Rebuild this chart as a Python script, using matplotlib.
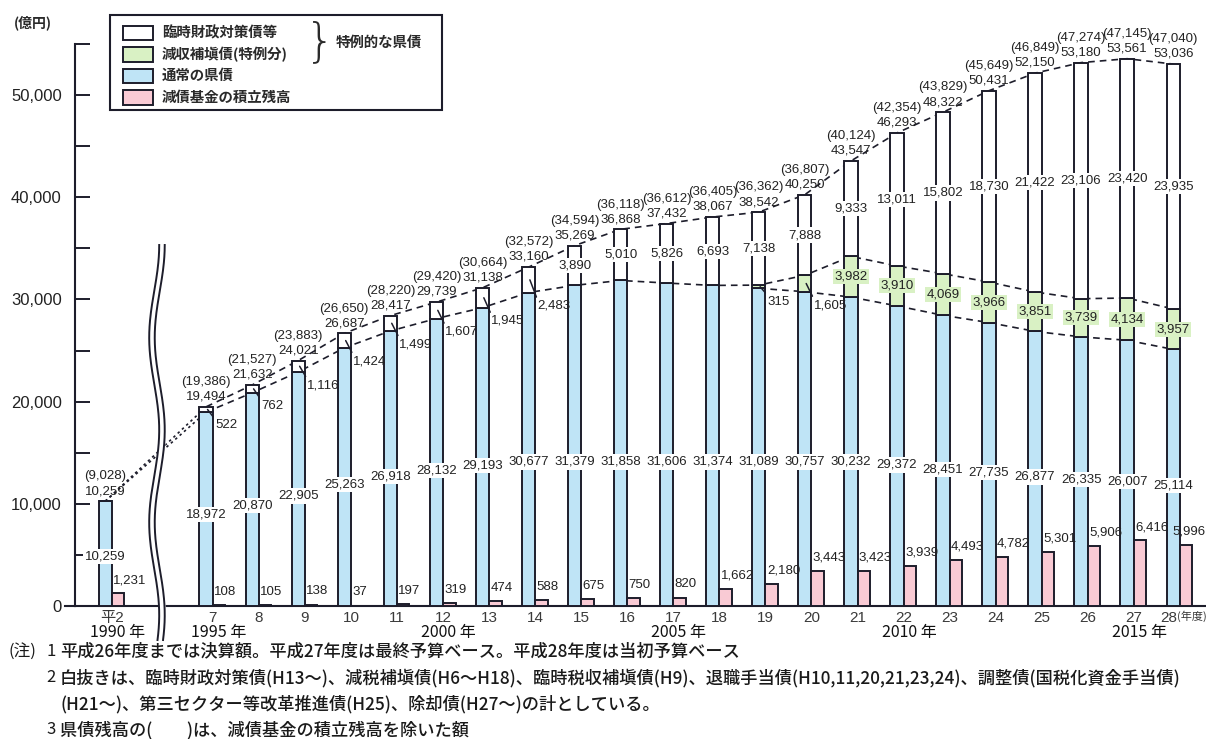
import matplotlib
matplotlib.use('Agg')
import matplotlib.pyplot as plt
import matplotlib.transforms as mtransforms
import numpy as np
from matplotlib import font_manager
from matplotlib.patches import Rectangle
from matplotlib.ticker import MultipleLocator, FuncFormatter

# 県債残高の推移（億円）
fiscal_years = ['平2', '7', '8', '9', '10', '11', '12', '13', '14', '15', '16', '17',
                '18', '19', '20', '21', '22', '23', '24', '25', '26', '27', '28']
normal_bonds = [10259, 18972, 20870, 22905, 25263, 26918, 28132, 29193, 30677, 31379,
                31858, 31606, 31374, 31089, 30757, 30232, 29372, 28451, 27735, 26877,
                26335, 26007, 25114]
hoten_bonds = [0, 0, 0, 0, 0, 0, 0, 0, 0, 0, 0, 0, 0, 315, 1605, 3982, 3910, 4069,
               3966, 3851, 3739, 4134, 3957]
special_bonds = [0, 522, 762, 1116, 1424, 1499, 1607, 1945, 2483, 3890, 5010, 5826,
                 6693, 7138, 7888, 9333, 13011, 15802, 18730, 21422, 23106, 23420, 23935]
fund_balance = [1231, 108, 105, 138, 37, 197, 319, 474, 588, 675, 750, 820, 1662, 2180,
                3443, 3423, 3939, 4493, 4782, 5301, 5906, 6416, 5996]
total_bonds = [10259, 19494, 21632, 24021, 26687, 28417, 29739, 31138, 33160, 35269,
               36868, 37432, 38067, 38542, 40250, 43547, 46293, 48322, 50431, 52150,
               53180, 53561, 53036]
total_ex_fund = [9028, 19386, 21527, 23883, 26650, 28220, 29420, 30664, 32572, 34594,
                 36118, 36612, 36405, 36362, 36807, 40124, 42354, 43829, 45649, 46849,
                 47274, 47145, 47040]
western_years = {0: '1990 年', 1: '1995 年', 6: '2000 年', 11: '2005 年',
                 16: '2010 年', 21: '2015 年'}

legend_labels = ['臨時財政対策債等', '減収補塡債(特例分)', '通常の県債', '減債基金の積立残高']
notes = [
    ('(注)', '1', '平成26年度までは決算額。平成27年度は最終予算ベース。平成28年度は当初予算ベース'),
    ('', '2', '白抜きは、臨時財政対策債(H13～)、減税補塡債(H6～H18)、臨時税収補塡債(H9)、'
              '退職手当債(H10,11,20,21,23,24)、調整債(国税化資金手当債)'),
    ('', '', '(H21～)、第三セクター等改革推進債(H25)、除却債(H27～)の計としている。'),
    ('', '3', '県債残高の(　　)は、減債基金の積立残高を除いた額'),
]

installed = {f.name for f in font_manager.fontManager.ttflist}
num_font = 'Liberation Sans Narrow' if 'Liberation Sans Narrow' in installed else 'Liberation Sans'
jp_font = 'Noto Sans CJK JP'
plt.rcParams['font.family'] = [num_font, jp_font, 'DejaVu Sans']

BLUE = '#bfe4f6'
GREEN = '#d9f1c4'
PINK = '#f9cad4'
EDGE = '#1d1d2b'
TXT = '#222222'

W, H = 1206, 739


def fx(px):
    return px / W


def fy(py):
    return 1 - py / H


normal = np.array(normal_bonds)
hoten = np.array(hoten_bonds)
special = np.array(special_bonds)
fund = np.array(fund_balance)

gap = 2.19
xs = np.array([0.0] + [gap + i for i in range(len(fiscal_years) - 1)])
bw, fw = 0.29, 0.27
xc = xs - bw / 2
x_right = 23.757

fig = plt.figure(figsize=(W / 100, H / 100), dpi=100)
ax = fig.add_axes([fx(75), fy(606), 1 - fx(75), (606 - 44) / H])

bar_kw = dict(align='edge', edgecolor=EDGE, linewidth=1.4, zorder=3)
ax.bar(xs - bw, normal, bw, color=BLUE, **bar_kw)
ax.bar(xs - bw, hoten, bw, bottom=normal, color=GREEN, **bar_kw)
ax.bar(xs - bw, special, bw, bottom=normal + hoten, color='white', **bar_kw)
ax.bar(xs, fund, fw, color=PINK, **bar_kw)

# connecting lines between bar tops
line_kw = dict(color=EDGE, lw=1.2, zorder=2)
upper = normal + hoten
for series, start in [(np.array(total_bonds), 0), (upper, 0), (normal, 13)]:
    ax.plot(xc[max(start, 1):], series[max(start, 1):], dashes=(4, 3), **line_kw)
    if start == 0:
        ax.plot(xc[:2], series[:2], dashes=(1.5, 2), **line_kw)

# totals with fund-excluded totals in parentheses
for i in range(len(xs)):
    ax.annotate(f'{total_bonds[i]:,}', xy=(xc[i], total_bonds[i]), xytext=(0, 3),
                textcoords='offset points', ha='center', va='bottom', fontsize=9.5,
                color=TXT, zorder=6)
    ax.annotate(f'({total_ex_fund[i]:,})', xy=(xc[i], total_bonds[i]), xytext=(0, 13.5),
                textcoords='offset points', ha='center', va='bottom', fontsize=9.5,
                color=TXT, zorder=6)

box_kw = dict(boxstyle='square,pad=0.12', ec='none')
for i in range(len(xs)):
    n = normal[i]
    ax.text(xc[i], min(0.47 * n, 14100), f'{n:,}', ha='center', va='center',
            fontsize=9.5, color=TXT, zorder=6, bbox=dict(fc='white', **box_kw))
    ax.text(min(xs[i] + 0.03, x_right - 0.72), fund[i] + 700, f'{fund[i]:,}',
            ha='left', va='bottom', fontsize=9.5, color=TXT, zorder=6)
    for base, seg, face in [(normal[i], hoten[i], GREEN),
                            (normal[i] + hoten[i], special[i], 'white')]:
        if seg == 0:
            continue
        if seg >= 3000:
            ax.text(xc[i], base + seg / 2, f'{seg:,}', ha='center', va='center',
                    fontsize=9.5, color=TXT, zorder=6, bbox=dict(fc=face, **box_kw))
        else:
            ax.annotate(f'{seg:,}', xy=(xc[i] + 0.03, base + seg / 2),
                        xytext=(xs[i] + 0.05, normal[i] - 1300), ha='left', va='center',
                        fontsize=9.5, color=TXT, zorder=6,
                        arrowprops=dict(arrowstyle='-', lw=1.1, color=EDGE,
                                        shrinkA=0, shrinkB=0, relpos=(0, 1)))

# axes styling
ax.set_xlim(-0.803, x_right)
ax.set_ylim(0, 55000)
for side in ['top', 'right']:
    ax.spines[side].set_visible(False)
for side in ['left', 'bottom']:
    ax.spines[side].set_linewidth(1.5)
    ax.spines[side].set_color(EDGE)
ax.plot([-1.03, -0.803], [0, 0], color=EDGE, lw=1.5, clip_on=False)

ax.yaxis.set_major_locator(MultipleLocator(10000))
ax.yaxis.set_minor_locator(MultipleLocator(5000))
ax.yaxis.set_major_formatter(FuncFormatter(lambda v, p: f'{int(v):,}'))
ax.tick_params(axis='y', which='both', direction='in', length=11, width=1.4,
               color=EDGE, pad=9.5, labelsize=12, labelcolor=TXT)
for lab in ax.get_yticklabels():
    lab.set_family(['Liberation Sans', 'DejaVu Sans'])

ax.set_xticks(xs)
ax.set_xticklabels(fiscal_years)
ax.tick_params(axis='x', length=0, pad=3.5, labelsize=11, labelcolor='#3a3a3a')
for lab in ax.get_xticklabels():
    lab.set_family(['Liberation Sans', jp_font])
last = ax.get_xticklabels()[-1]
last.set_transform(last.get_transform() +
                   mtransforms.ScaledTranslation(-8 / 72, 0, fig.dpi_scale_trans))
ax.annotate('(年度)', xy=(xs[-1], 0), xycoords=('data', 'axes fraction'),
            xytext=(-2, -3.5), textcoords='offset points', ha='left', va='top',
            fontsize=8, color='#3a3a3a', family=[jp_font])

for i, label in western_years.items():
    ax.annotate(label, xy=(xs[i] + 0.12, 0), xycoords=('data', 'axes fraction'),
                xytext=(0, -19), textcoords='offset points', ha='center', va='center',
                fontsize=11.5, color='#111111', family=[jp_font])

# axis break between 平2 and 7
y_px = np.linspace(245, 640, 200)
wave = 5 * np.cos(2 * np.pi * (y_px - 245) / 185)
to_data_y = lambda p: (606 - p) / 562 * 55000
bx = 0.977 + wave / 46.05
yy = to_data_y(y_px)
ax.fill_betweenx(yy, bx - 0.06, bx + 0.06, color='white', zorder=7, clip_on=False)
ax.plot(bx - 0.06, yy, color=EDGE, lw=1.4, zorder=8, clip_on=False)
ax.plot(bx + 0.06, yy, color=EDGE, lw=1.4, zorder=8, clip_on=False)

# legend box
fig.add_artist(Rectangle((fx(110), fy(110)), fx(442) - fx(110), fy(15) - fy(110),
                         transform=fig.transFigure, fill=False, ec=EDGE, lw=1.5))
for k, (label, face) in enumerate(zip(legend_labels, ['white', GREEN, BLUE, PINK])):
    y_mid = 33 + k * 21.5
    fig.add_artist(Rectangle((fx(123), fy(y_mid + 7)), fx(30), 14 / H,
                             transform=fig.transFigure, fc=face, ec=EDGE, lw=1.4))
    fig.text(fx(162), fy(y_mid), label, ha='left', va='center', fontsize=10.4,
             weight='bold', color='#2a2a2a', family=[jp_font])
fig.text(fx(320), fy(42), '}', ha='center', va='center', fontsize=34,
         color='#2a2a2a', family=['DejaVu Sans'], weight='light')
fig.text(fx(336), fy(43), '特例的な県債', ha='left', va='center', fontsize=10.4,
         weight='bold', color='#2a2a2a', family=[jp_font])
fig.text(fx(14), fy(23), '(億円)', ha='left', va='center', fontsize=10,
         weight='bold', color='#2a2a2a', family=[jp_font])

# footnotes
for k, (head, num, body) in enumerate(notes):
    y = [651, 678, 704, 730][k]
    if head:
        fig.text(fx(8), fy(y), head, ha='left', va='center', fontsize=12,
                 color='#1a1a1a', family=[jp_font])
    if num:
        fig.text(fx(46), fy(y), num, ha='left', va='center', fontsize=12,
                 color='#1a1a1a', family=[jp_font])
    fig.text(fx(60), fy(y), body, ha='left', va='center', fontsize=12.4,
             weight='medium', color='#1a1a1a', family=[jp_font])

fig.savefig('out.png', dpi=100, facecolor='white')
